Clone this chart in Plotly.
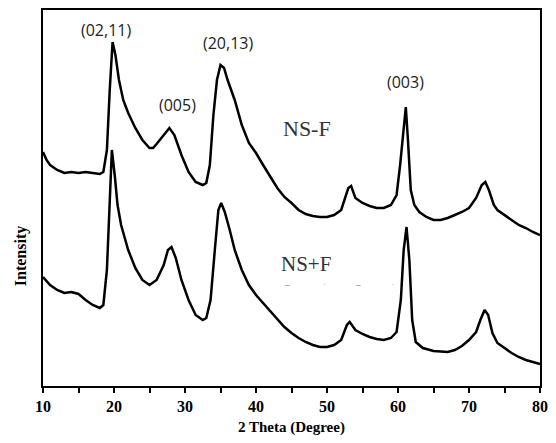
import plotly.graph_objects as go

# NS-F (upper) pattern: 2theta (deg) and intensity (arb.)
x_nsf = [10, 10.5, 11, 12, 13, 14, 15, 16, 17, 18, 18.5, 19, 19.4, 19.8, 20.2, 20.7, 21.3, 22, 23, 24, 25,
         25.5, 26, 27, 27.8, 28.5, 29.5, 30.5, 31.5, 32.5, 33, 33.5, 34, 34.5, 35, 35.5, 36, 37, 38, 39, 40,
         41, 42, 43, 44, 45, 46, 47, 48, 49, 50, 51, 52, 52.5, 53, 53.4, 54, 55, 56, 57, 58, 59, 59.8, 60.3,
         60.8, 61.1, 61.4, 61.8, 62.3, 63, 64, 65, 66, 67, 68, 69, 70, 71, 71.8, 72.3, 72.8, 73.5, 74, 75,
         76, 77, 78, 79, 80]
py_nsf = [152, 160, 165, 170, 173, 172, 173, 172, 173, 174, 172, 150, 90, 42, 55, 80, 100, 113, 128, 140, 148,
          148, 144, 135, 128, 135, 155, 172, 182, 185, 183, 165, 115, 80, 65, 68, 80, 100, 125, 143, 153,
          165, 177, 188, 197, 203, 210, 214, 216, 217, 217, 215, 210, 200, 188, 186, 198, 203, 206, 208, 208, 205, 195, 165,
          125, 107, 140, 190, 205, 212, 217, 220, 220, 218, 215, 212, 208, 198, 185, 182, 190, 205, 210, 215,
          220, 225, 228, 232, 235]
y_nsf = [386 - v for v in py_nsf]

# NS+F (lower) pattern
x_nspf = [10, 11, 12, 13, 14, 15, 16, 17, 18, 18.5, 19, 19.4, 19.7, 20.1, 20.5, 21, 22, 23, 24, 25, 26, 27,
          27.6, 28.1, 28.7, 29.5, 30.5, 31.5, 32.5, 33, 33.6, 34.2, 34.7, 35.1, 35.6, 36.3, 37, 38, 39, 40,
          41, 42, 43, 44, 45, 46, 47, 48, 49, 50, 51, 52, 52.8, 53.2, 54, 55, 56, 57, 58, 59, 59.8, 60.4,
          60.8, 61.2, 61.6, 62, 62.5, 63.5, 65, 67, 68, 69, 70, 71, 71.6, 72.2, 72.7, 73.3, 74, 75, 76, 77,
          78, 79, 80]
py_nspf = [277, 285, 290, 293, 292, 294, 300, 305, 308, 305, 270, 200, 150, 175, 205, 225, 250, 268, 280, 285, 280, 265,
           250, 247, 258, 280, 300, 315, 320, 318, 300, 250, 210, 203, 212, 230, 250, 270, 285, 295,
           303, 312, 320, 327, 333, 338, 342, 345, 347, 347, 345, 340, 325, 322, 330, 334, 337, 339, 340, 338, 332, 300,
           250, 227, 260, 320, 342, 348, 351, 352, 350, 346, 340, 332, 320, 310, 315, 333, 343, 348, 353, 357,
           360, 362, 364]
y_nspf = [386 - v for v in py_nspf]

peak_labels = ["(02,11)", "(005)", "(20,13)", "(003)"]
peak_x = [18.9, 29.0, 36.0, 61.0]
peak_y = [356, 281, 343, 304]

x_ticks = [10, 20, 30, 40, 50, 60, 70, 80]

fig = go.Figure()
fig.add_trace(go.Scatter(x=x_nsf, y=y_nsf, mode="lines", line=dict(color="black", width=2.5), showlegend=False))
fig.add_trace(go.Scatter(x=x_nspf, y=y_nspf, mode="lines", line=dict(color="black", width=2.5), showlegend=False))

for t, xx, yy in zip(peak_labels, peak_x, peak_y):
    fig.add_annotation(x=xx, y=yy, text=t, showarrow=False,
                       font=dict(family="Open Sans", size=16, color="#222"))

fig.add_annotation(x=47.2, y=258, text="NS-F", showarrow=False,
                   font=dict(family="Liberation Serif", size=22, color="#333"))
fig.add_annotation(x=47.1, y=122, text="NS+F", showarrow=False,
                   font=dict(family="Liberation Serif", size=21, color="#333"))
for xx, t, c in [(44.3, "–", "#444"), (49.7, "·", "#aaa"), (54.3, "–", "#444"), (59.2, "·", "#aaa")]:
    fig.add_annotation(x=xx, y=102, text=t, showarrow=False,
                       font=dict(family="Liberation Serif", size=9, color=c))

fig.add_annotation(xref="paper", yref="paper", x=-0.0436, y=0.346, text="<b>Intensity</b>",
                   textangle=-90, showarrow=False, xanchor="center", yanchor="middle",
                   font=dict(family="Liberation Serif", size=16, color="black"))
fig.add_annotation(xref="paper", yref="paper", x=0.5, y=-0.1117, text="<b>2 Theta (Degree)</b>",
                   showarrow=False, xanchor="center", yanchor="middle",
                   font=dict(family="Liberation Serif", size=15, color="black"))

fig.update_xaxes(range=[10, 80], tickvals=x_ticks, ticktext=[f"<b>{v}</b>" for v in x_ticks],
                 ticks="outside", ticklen=5, tickwidth=1.5, tickcolor="black",
                 minor=dict(dtick=5, tick0=10, ticks="outside", ticklen=5, tickwidth=1.5, tickcolor="black"),
                 showline=True, linecolor="black", linewidth=1.5, mirror=True,
                 showgrid=False, zeroline=False,
                 tickfont=dict(family="Liberation Serif", size=16, color="black"))
fig.update_yaxes(range=[0, 376], showticklabels=False, ticks="", showgrid=False, zeroline=False,
                 showline=True, linecolor="black", linewidth=1.5, mirror=True)

fig.update_layout(width=556, height=443, margin=dict(l=43, r=8, t=10, b=57),
                  plot_bgcolor="white", paper_bgcolor="white")

fig.write_html("out.html")
